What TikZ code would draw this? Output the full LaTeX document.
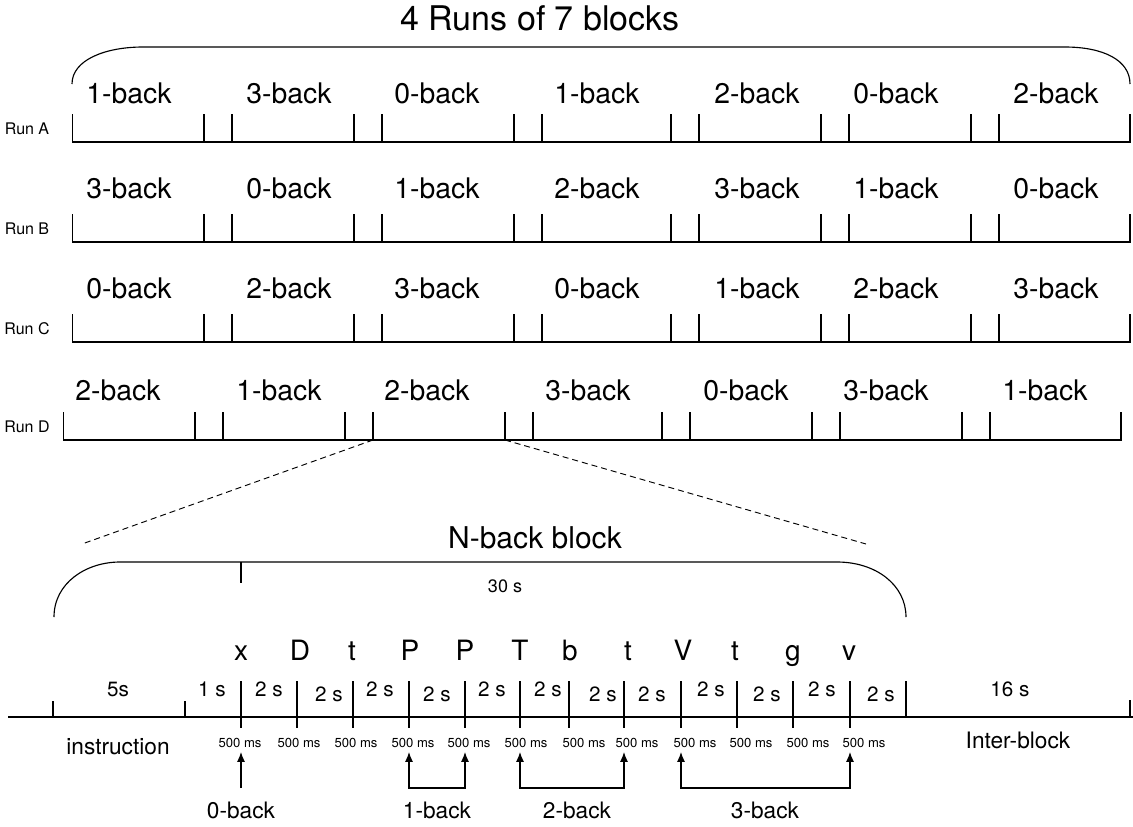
\documentclass[tikz,border=0pt]{standalone}
\usepackage{fontspec}
\setmainfont{TeX Gyre Heros}
\usetikzlibrary{arrows.meta}

\tikzset{
  headline/.style={anchor=base,font=\fontsize{25.5}{30}\selectfont},
  blocklabel/.style={anchor=base,font=\fontsize{21.3}{25}\selectfont},
  runlabel/.style={anchor=base,font=\fontsize{12}{14}\selectfont},
  stimlabel/.style={anchor=base,font=\fontsize{21}{25}\selectfont},
  durlabel/.style={anchor=base,font=\fontsize{15.5}{18}\selectfont},
  mslabel/.style={anchor=base,font=\fontsize{9.8}{12}\selectfont},
  partlabel/.style={anchor=base,font=\fontsize{17}{20}\selectfont},
  pointer/.style={-{Latex[length=2.6mm,width=2.1mm]}},
  twopointer/.style={{Latex[length=2.6mm,width=2.1mm]}-{Latex[length=2.6mm,width=2.1mm]}},
  zoomline/.style={dash pattern=on 4.5pt off 3pt,line width=0.7pt}
}

\begin{document}
\begin{tikzpicture}[x=0.75pt,y=-0.75pt,line width=0.85pt]
\useasboundingbox (0,0) rectangle (1133,826);

% overview of the four runs
\node[headline] (runs) at (540,30) {4 Runs of 7 blocks};
\draw (72,84) .. controls (72,60) and (105,47) .. (143,47) -- (1065,47) .. controls (1103,47) and (1130,60) .. (1130,84);

\foreach \y/\r in {142/A,242/B,342/C}{
  \node[runlabel] (run\r) at (27,\y-7.5) {Run \r};
  \draw (72.6,\y-28) -- (72.6,\y) -- (1130,\y) -- (1130,\y-28);
  \foreach \x in {204,232,354,382,514,542,671,699,821,849,971,999}
    \draw (\x,\y) -- (\x,\y-28);
}
\node[runlabel] (runD) at (27,432.5) {Run D};
\draw (63.6,412) -- (63.6,440) -- (1121,440) -- (1121,412);
\foreach \x in {195,223,345,373,505,533,662,690,812,840,962,990}
  \draw (\x,440) -- (\x,412);

\foreach \x/\n [count=\i] in {129/1,289/3,437/0,597/1,757/2,896/0,1056/2}
  \node[blocklabel] (a\i) at (\x,103) {\n-back};
\foreach \x/\n [count=\i] in {129/3,289/0,437/1,597/2,757/3,896/1,1056/0}
  \node[blocklabel] (b\i) at (\x,198) {\n-back};
\foreach \x/\n [count=\i] in {129/0,289/2,437/3,597/0,757/1,896/2,1056/3}
  \node[blocklabel] (c\i) at (\x,298) {\n-back};
\foreach \x/\n [count=\i] in {118/2,279/1,427/2,588/3,746/0,886/3,1045/1}
  \node[blocklabel] (d\i) at (\x,400) {\n-back};

% zoom onto one block
\coordinate (zl) at (373,440);
\coordinate (zr) at (505,440);
\coordinate (el) at (82,544);
\coordinate (er) at (866,544);
\draw[zoomline] (zl) -- (el);
\draw[zoomline] (zr) -- (er);

\node[headline,font=\fontsize{22.5}{26}\selectfont] (nback) at (535,548) {N-back block};
\draw (54,617) .. controls (54,583) and (86,562) .. (120,562) -- (837,562) .. controls (876,562) and (906,585) .. (906,617);
\draw (241,562) -- (241,583);
\node[durlabel,font=\fontsize{13.5}{16}\selectfont] (thirty) at (505,592) {30 s};

% time line
\draw[line width=1.1pt] (8,717) -- (1133,717);
\foreach \x in {53,185}
  \draw (\x,717) -- (\x,701);
\draw (906,717) -- (906,681);
\draw (1130,717) -- (1130,700);
\foreach \x [count=\i] in {241,297,353,409,465,520,569,624,681,737,793,850}{
  \coordinate (t\i) at (\x,717);
  \draw (\x,681) -- (\x,728);
}

\foreach \x/\s [count=\i] in {241/x,300/D,352/t,410/P,465/P,520/T,570/b,628/t,683/V,735/t,793/g,849/v}
  \node[stimlabel] (s\i) at (\x,660) {\s};

\node[durlabel] (five) at (118,696) {5s};
\node[durlabel] (one) at (212,696) {1 s};
\foreach \x/\y [count=\i] in {269/696,329/701,380/696,437/701,492/696,548/696,603/701,652/701,711/696,767/701,822/696,881/701}
  \node[durlabel] (two\i) at (\x,\y) {2 s};
\node[durlabel] (sixteen) at (1010,696) {16 s};

\foreach \x [count=\i] in {240,299,356,413,469,526,584,637,695,751,808,864}
  \node[mslabel] (ms\i) at (\x,747) {500 ms};

\node[partlabel] (instr) at (118,754) {instruction};
\node[partlabel] (inter) at (1018,748) {Inter-block};

% targets
\coordinate (p0) at (241,752);
\coordinate (p1a) at (409,752);
\coordinate (p1b) at (465,752);
\coordinate (p2a) at (520,752);
\coordinate (p2b) at (624,752);
\coordinate (p3a) at (681,752);
\coordinate (p3b) at (850,752);
\draw[pointer] (241,788) -- (p0);
\draw[twopointer] (p1a) -- (409,788) -- (465,788) -- (p1b);
\draw[twopointer] (p2a) -- (520,788) -- (624,788) -- (p2b);
\draw[twopointer] (p3a) -- (681,788) -- (850,788) -- (p3b);

\node[partlabel] (zero) at (241,818) {0-back};
\node[partlabel] (onebk) at (437,818) {1-back};
\node[partlabel] (twobk) at (577,818) {2-back};
\node[partlabel] (threebk) at (765,818) {3-back};
\end{tikzpicture}
\end{document}
